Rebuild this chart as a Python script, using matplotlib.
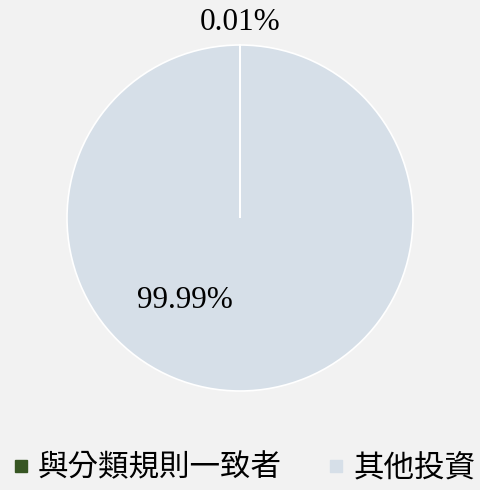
import matplotlib
matplotlib.use("Agg")
import matplotlib.pyplot as plt
from matplotlib.lines import Line2D

categories = ["與分類規則一致者", "其他投資"]
values = [0.01, 99.99]
labels = ["0.01%", "99.99%"]
colors = ["#375623", "#d6dfe8"]

plt.rcParams['font.family'] = ['Liberation Serif', 'Noto Sans CJK TC', 'DejaVu Sans']

fig = plt.figure(figsize=(4.8, 4.9), dpi=100, facecolor="#f2f2f2")
ax = fig.add_axes([67/480, 1-391/490, 346/480, 346/490])
ax.set_facecolor("#f2f2f2")
wedges, _ = ax.pie(values, colors=colors, startangle=90, counterclock=False,
                   wedgeprops=dict(edgecolor="white", linewidth=1.2))
ax.set_xlim(-1, 1)
ax.set_ylim(-1, 1)
ax.set_aspect('auto')
ax.axis('off')

ax.text(0.0, 1.13, labels[0], ha='center', va='center', fontsize=22.5, color='black')
ax.text(-0.318, -0.474, labels[1], ha='center', va='center', fontsize=22.5, color='black')

handles = [Line2D([], [], marker='s', linestyle='none', markersize=9,
                  markerfacecolor=c, markeredgecolor=c) for c in colors]
fig.legend(handles, categories, loc='center', bbox_to_anchor=(0.507, 1-468/490),
           ncol=2, frameon=False,
           prop={'family': ['Noto Sans CJK TC'], 'size': 22},
           handlelength=0.6, handletextpad=0.25, columnspacing=1.5)

fig.savefig("out.png", dpi=100, facecolor=fig.get_facecolor())
